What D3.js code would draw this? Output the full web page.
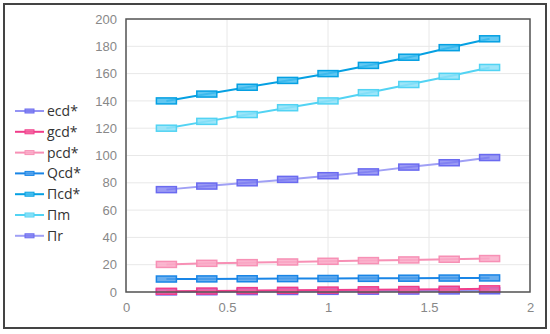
<!DOCTYPE html>
<html>
<head>
<meta charset="utf-8">
<script src="https://cdn.jsdelivr.net/npm/d3@7"></script>
<style>
  body { margin: 0; background: #fff; }
  svg { font-family: "Open Sans", sans-serif; }
</style>
</head>
<body>
<svg id="chart" width="550" height="334"></svg>
<script>
// data
var xValues = [0.2, 0.4, 0.6, 0.8, 1.0, 1.2, 1.4, 1.6, 1.8];
var seriesNames = ["ecd*", "gcd*", "pcd*", "Qcd*", "Пcd*", "Пm", "Пr"];
var ecd = [0.1, 0.2, 0.3, 0.4, 0.5, 0.6, 0.7, 0.8, 0.9];
var gcd = [0.5, 0.7, 1.0, 1.2, 1.4, 1.6, 1.8, 2.0, 2.3];
var pcd = [20.2, 21, 21.5, 22, 22.5, 23, 23.5, 24, 24.5];
var qcd = [9.5, 9.6, 9.7, 9.8, 9.9, 10, 10.1, 10.2, 10.3];
var picd = [140, 145, 150, 155, 160, 166, 172, 179, 185.5];
var pim = [120, 125, 130, 135, 140, 146, 152, 158, 164.5];
var pir = [75, 77.6, 80, 82.5, 85.2, 88, 91.5, 94.7, 98.5];
var xTicks = [0, 0.5, 1, 1.5, 2];
var yTicks = [0, 20, 40, 60, 80, 100, 120, 140, 160, 180, 200];

var seriesValues = [ecd, gcd, pcd, qcd, picd, pim, pir];
// line colour, marker stroke, marker fill
var colors = [
    ["#9494f4", "#6a6af0", "rgba(120,120,240,0.75)"],
    ["#f03d8a", "#f03d8a", "rgba(245,100,160,0.8)"],
    ["#f790b5", "#f790b5", "rgba(250,170,200,0.85)"],
    ["#1985e6", "#1985e6", "rgba(80,160,235,0.85)"],
    ["#05a0e2", "#05a0e2", "rgba(70,190,240,0.85)"],
    ["#52d3f3", "#52d3f3", "rgba(140,225,248,0.85)"],
    ["#a0a0f5", "#6a6af0", "rgba(120,120,240,0.75)"]
];

var svg = d3.select("#chart"),
    margin = { top: 19, right: 20, bottom: 42, left: 126 },
    width = 530 - margin.left,
    height = 292 - margin.top;

// outer frame
svg.append("rect")
    .attr("x", 4).attr("y", 4)
    .attr("width", 542).attr("height", 324)
    .attr("fill", "none")
    .attr("stroke", "#444")
    .attr("stroke-width", 2);

var x = d3.scaleLinear().domain([0, 2]).range([0, width]),
    y = d3.scaleLinear().domain([0, 200]).range([height, 0]);

var g = svg.append("g")
    .attr("transform", "translate(" + margin.left + "," + margin.top + ")");

// grid
g.append("g")
    .selectAll("line.hgrid")
    .data(yTicks)
    .enter().append("line")
    .attr("x1", 0).attr("x2", width)
    .attr("y1", function(d) { return y(d); })
    .attr("y2", function(d) { return y(d); })
    .attr("stroke", "#e8e8e8");
g.append("g")
    .selectAll("line.vgrid")
    .data(xTicks)
    .enter().append("line")
    .attr("y1", 0).attr("y2", height)
    .attr("x1", function(d) { return x(d); })
    .attr("x2", function(d) { return x(d); })
    .attr("stroke", "#e8e8e8");

// axes (labels only, frame drawn separately)
var xAxis = d3.axisBottom(x).tickValues(xTicks).tickSize(0).tickPadding(11)
    .tickFormat(function(d) { return d3.format("")(d); });
var yAxis = d3.axisLeft(y).tickValues(yTicks).tickSize(0).tickPadding(9);

g.append("g")
    .attr("transform", "translate(0," + height + ")")
    .call(xAxis)
    .call(function(s) { s.select(".domain").remove(); })
    .selectAll("text")
    .attr("fill", "#888").style("font-size", "13px");
g.append("g")
    .call(yAxis)
    .call(function(s) { s.select(".domain").remove(); })
    .selectAll("text")
    .attr("fill", "#888").style("font-size", "13px");

// series
var line = d3.line()
    .x(function(d, i) { return x(xValues[i]); })
    .y(function(d) { return y(d); });

seriesValues.forEach(function(vals, k) {
    var c = colors[k];
    var sg = g.append("g");
    sg.append("path")
        .datum(vals)
        .attr("d", line)
        .attr("fill", "none")
        .attr("stroke", c[0])
        .attr("stroke-width", 2);
    sg.selectAll("rect")
        .data(vals)
        .enter().append("rect")
        .attr("x", function(d, i) { return x(xValues[i]) - 10; })
        .attr("y", function(d) { return y(d) - 3; })
        .attr("width", 20)
        .attr("height", 6)
        .attr("fill", c[2])
        .attr("stroke", c[1])
        .attr("stroke-width", 1.5);
});

// plot frame
g.append("rect")
    .attr("width", width).attr("height", height)
    .attr("fill", "none")
    .attr("stroke", "#555")
    .attr("stroke-width", 1.5);

// legend
var legend = svg.append("g").attr("transform", "translate(15,111)");
seriesNames.forEach(function(name, k) {
    var c = colors[k];
    var row = legend.append("g").attr("transform", "translate(0," + (k * 20.8) + ")");
    row.append("line")
        .attr("x1", 0).attr("x2", 29)
        .attr("stroke", c[0]).attr("stroke-width", 2);
    row.append("rect")
        .attr("x", 10).attr("y", -2).attr("width", 9).attr("height", 4)
        .attr("fill", c[2]).attr("stroke", c[1]).attr("stroke-width", 1);
    row.append("text")
        .attr("x", 32).attr("y", 0).attr("dy", "0.35em")
        .attr("fill", "#333")
        .style("font-size", "14px")
        .text(name);
});
</script>
</body>
</html>
